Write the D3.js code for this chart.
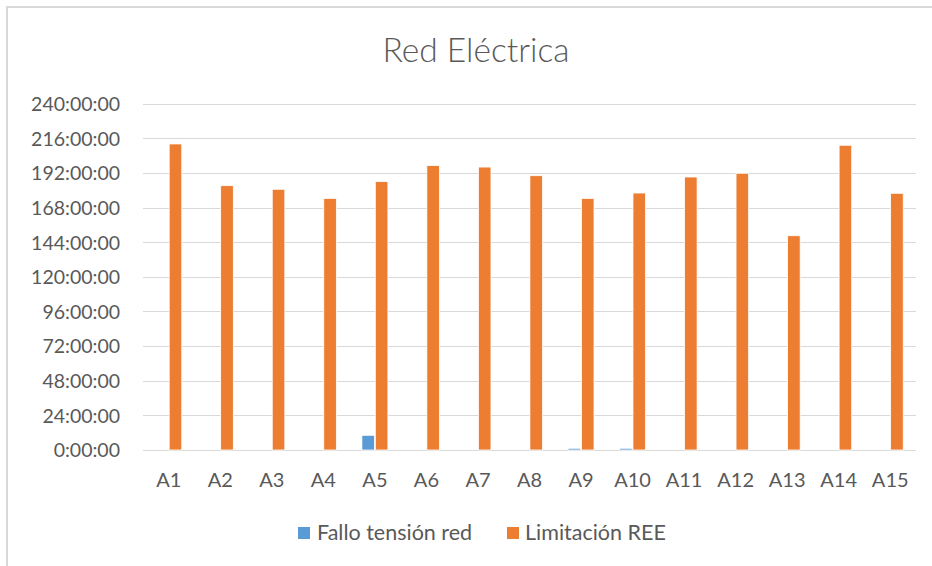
<!DOCTYPE html>
<html>
<head>
<meta charset="utf-8">
<script src="https://cdn.jsdelivr.net/npm/d3@7"></script>
<style>
  body { margin: 0; background: #fff; }
  svg { display: block; }
  text { font-family: Lato, "Open Sans", sans-serif; fill: #595959; }
</style>
</head>
<body>
<svg id="chart" width="932" height="566"></svg>
<script>
// Data (hours)
const categories = ["A1","A2","A3","A4","A5","A6","A7","A8","A9","A10","A11","A12","A13","A14","A15"];
const falloTension = [0, 0, 0, 0, 10.2, 0, 0, 0, 1.2, 1.2, 0, 0, 0, 0, 0];
const limitacionREE = [212.1, 183.2, 180.7, 174.4, 186.0, 197.1, 196.1, 190.1, 174.4, 178.1, 189.2, 191.8, 148.5, 211.2, 177.9];
const yTicks = [0, 24, 48, 72, 96, 120, 144, 168, 192, 216, 240];
const seriesNames = ["Fallo tensión red", "Limitación REE"];
const colors = ["#5B9BD5", "#ED7D31"];
const title = "Red Eléctrica";

const svg = d3.select("#chart");
const labelFont = 19.5;

// outer chart border
svg.append("rect").attr("x", 7).attr("y", 7).attr("width", 940).attr("height", 580)
  .attr("fill", "#fff").attr("stroke", "#d9d9d9").attr("stroke-width", 2);

const x = d3.scaleBand().domain(categories).range([143, 916]).padding(0);
const y = d3.scaleLinear().domain([0, 240]).range([450, 103.7]);

// gridlines
svg.append("g").selectAll("line").data(yTicks).join("line")
  .attr("x1", 143).attr("x2", 916)
  .attr("y1", d => Math.round(y(d)) + 0.5).attr("y2", d => Math.round(y(d)) + 0.5)
  .attr("stroke", "#d9d9d9").attr("stroke-width", 1);

// y axis labels
const yAxis = d3.axisLeft(y).tickValues(yTicks).tickSize(0).tickPadding(0)
  .tickFormat(d => d + ":00:00");
const gy = svg.append("g").attr("transform", "translate(120,0)").call(yAxis);
gy.select(".domain").remove();
gy.selectAll("text").attr("font-size", labelFont).attr("fill", "#595959")
  .attr("font-family", 'Lato, sans-serif').attr("dy", "0.35em");

// x axis labels
const xAxis = d3.axisBottom(x).tickSize(0).tickPadding(0);
const gx = svg.append("g").attr("transform", "translate(0,450)").call(xAxis);
gx.select(".domain").remove();
gx.selectAll("text").attr("font-size", 20).attr("fill", "#595959")
  .attr("font-family", 'Lato, sans-serif').attr("y", 37).attr("dy", 0);

// bars
const bw = 12.6;
const series = [falloTension, limitacionREE];
series.forEach((vals, si) => {
  svg.append("g").selectAll("rect").data(categories).join("rect")
    .attr("x", (c) => x(c) + x.bandwidth() / 2 - bw + si * bw + (si === 0 ? -0.4 : 0.4))
    .attr("width", bw)
    .attr("y", (c, i) => y(vals[i]))
    .attr("height", (c, i) => y(0) - y(vals[i]))
    .attr("fill", colors[si])
    .attr("stroke", "#fff").attr("stroke-width", 0.8)
    .attr("display", (c, i) => vals[i] > 0 ? null : "none");
});

// title
svg.append("text").attr("x", 476).attr("y", 62).attr("text-anchor", "middle")
  .attr("font-size", 33.5).attr("font-weight", 300).text(title);

// legend
const legendItems = [
  { name: seriesNames[0], color: colors[0], sx: 298, tx: 317 },
  { name: seriesNames[1], color: colors[1], sx: 507, tx: 525 }
];
const lg = svg.append("g");
legendItems.forEach(it => {
  lg.append("rect").attr("x", it.sx).attr("y", 527).attr("width", 12).attr("height", 12).attr("fill", it.color);
  lg.append("text").attr("x", it.tx).attr("y", 540).attr("font-size", 21.5).text(it.name);
});
</script>
</body>
</html>
